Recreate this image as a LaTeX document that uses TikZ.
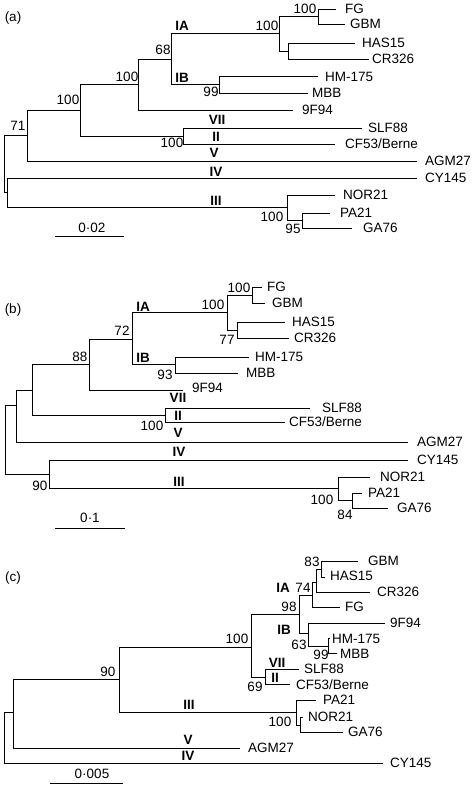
\documentclass[tikz,border=0pt]{standalone}
\usepackage{fontspec}
\setmainfont{Liberation Sans}
\begin{document}
\begin{tikzpicture}[x=1pt,y=-1pt,
  br/.style={line width=0.9pt,black},
  leaf/.style={anchor=west,inner sep=0pt,font=\fontsize{13.5}{13.5}\selectfont,text height=9.7pt,text depth=0pt},
  bs/.style={inner sep=0pt,font=\fontsize{13.5}{13.5}\selectfont,text height=9.7pt,text depth=0pt},
  clade/.style={inner sep=0pt,font=\fontsize{13.5}{13.5}\selectfont\bfseries,text height=9.7pt,text depth=0pt},
  panel/.style={inner sep=0pt,font=\fontsize{13.5}{13.5}\selectfont}]
\useasboundingbox (0,0) rectangle (474,786);
\fill[white] (0,0) rectangle (474,786);

% ================= Panel (a) =================
\node[panel] (pa) at (13,18) {(a)};
\coordinate (a0) at (4,163);
\coordinate (a71) at (27,135);
\coordinate (aIV) at (7,192);
\coordinate (a100a) at (80,110);
\coordinate (a100b) at (138,84);
\coordinate (a68) at (171,59);
\coordinate (a100c) at (279,33);
\coordinate (a100d) at (318,16);
\coordinate (aHC) at (288,51);
\coordinate (a99) at (219,84);
\coordinate (aII) at (183,136);
\coordinate (a100e) at (287,207);
\coordinate (a95) at (302,220);
\coordinate (aFGe) at (336,9);
\coordinate (aGBMe) at (345,24);
\coordinate (aHASe) at (355,43);
\coordinate (aCRe) at (369,59);
\coordinate (aHMe) at (318,76);
\coordinate (aMBBe) at (308,93);
\coordinate (a9Fe) at (293,110);
\coordinate (aSLFe) at (362,128);
\coordinate (aCFe) at (335,144);
\coordinate (aAGMe) at (417,161);
\coordinate (aCYe) at (417,178);
\coordinate (aNORe) at (335,195);
\coordinate (aPAe) at (330,213);
\coordinate (aGAe) at (352,228);
\foreach \p/\c in {a0/a71,a0/aIV,a71/a100a,a71/aAGMe,a100a/a100b,a100a/aII,
  a100b/a68,a100b/a9Fe,a68/a100c,a68/a99,a100c/a100d,a100c/aHC,a100d/aFGe,
  a100d/aGBMe,aHC/aHASe,aHC/aCRe,a99/aHMe,a99/aMBBe,aII/aSLFe,aII/aCFe,
  aIV/aCYe,aIV/a100e,a100e/aNORe,a100e/a95,a95/aPAe,a95/aGAe}
  \draw[br] (\p) |- (\c);
\node[leaf] (aFG) at (345,9) {FG};
\node[leaf] (aGBM) at (350,24) {GBM};
\node[leaf] (aHAS) at (362,43) {HAS15};
\node[leaf] (aCR) at (372,59) {CR326};
\node[leaf] (aHM) at (325,77) {HM-175};
\node[leaf] (aMBB) at (312,93) {MBB};
\node[leaf] (a9F) at (302,110) {9F94};
\node[leaf] (aSLF) at (368,128) {SLF88};
\node[leaf] (aCF) at (345,144) {CF53/Berne};
\node[leaf] (aAGM) at (425,161) {AGM27};
\node[leaf] (aCY) at (425,178) {CY145};
\node[leaf] (aNOR) at (343,195) {NOR21};
\node[leaf] (aPA) at (340,213) {PA21};
\node[leaf] (aGA) at (363,228) {GA76};
\node[bs] (ab1) at (305,9) {100};
\node[bs] (ab2) at (267,26) {100};
\node[bs] (ab3) at (163,50) {68};
\node[bs] (ab4) at (127,77) {100};
\node[bs] (ab5) at (68,100) {100};
\node[bs] (ab6) at (18,126) {71};
\node[bs] (ab7) at (211,92) {99};
\node[bs] (ab8) at (172,143) {100};
\node[bs] (ab9) at (272,217) {100};
\node[bs] (ab10) at (293,229) {95};
\node[clade] (aIA) at (182,26) {IA};
\node[clade] (aIB) at (182,78) {IB};
\node[clade] (aVII) at (217,120) {VII};
\node[clade] (aIIl) at (216,137) {II};
\node[clade] (aV) at (214,153) {V};
\node[clade] (aIVl) at (216,172) {IV};
\node[clade] (aIII) at (216,201) {III};
\node[bs] (asc) at (92,228) {0·02};
\coordinate (as1) at (55,236);
\coordinate (as2) at (124,236);
\draw[br] (as1) -- (as2);

% ================= Panel (b) =================
\node[panel] (pb) at (13,310) {(b)};
\coordinate (b0) at (5,440);
\coordinate (bX) at (16,405);
\coordinate (bY) at (32,390);
\coordinate (b88) at (89,364);
\coordinate (b72) at (132,339);
\coordinate (b100) at (227,312);
\coordinate (bFG) at (252,295);
\coordinate (b77) at (237,330);
\coordinate (b93) at (175,364);
\coordinate (bII) at (165,415);
\coordinate (b90) at (49,474);
\coordinate (b100e) at (338,488);
\coordinate (b84) at (352,500);
\coordinate (bFGe) at (262,287);
\coordinate (bGBMe) at (265,303);
\coordinate (bHASe) at (285,322);
\coordinate (bCRe) at (289,338);
\coordinate (bHMe) at (249,357);
\coordinate (bMBBe) at (238,373);
\coordinate (b9Fe) at (183,390);
\coordinate (bSLFe) at (310,408);
\coordinate (bCFe) at (285,422);
\coordinate (bAGMe) at (408,442);
\coordinate (bCYe) at (408,460);
\coordinate (bNORe) at (370,477);
\coordinate (bPAe) at (362,493);
\coordinate (bGAe) at (388,508);
\foreach \p/\c in {b0/bX,b0/b90,bX/bY,bX/bAGMe,bY/b88,bY/bII,b88/b72,b88/b9Fe,
  b72/b100,b72/b93,b100/bFG,b100/b77,bFG/bFGe,bFG/bGBMe,b77/bHASe,b77/bCRe,
  b93/bHMe,b93/bMBBe,bII/bSLFe,bII/bCFe,b90/bCYe,b90/b100e,b100e/bNORe,
  b100e/b84,b84/bPAe,b84/bGAe}
  \draw[br] (\p) |- (\c);
\node[leaf] (bFGt) at (267,287) {FG};
\node[leaf] (bGBM) at (272,303) {GBM};
\node[leaf] (bHAS) at (292,322) {HAS15};
\node[leaf] (bCR) at (294,338) {CR326};
\node[leaf] (bHM) at (255,357) {HM-175};
\node[leaf] (bMBB) at (246,373) {MBB};
\node[leaf] (b9F) at (192,388) {9F94};
\node[leaf] (bSLF) at (322,408) {SLF88};
\node[leaf] (bCF) at (289,422) {CF53/Berne};
\node[leaf] (bAGM) at (417,442) {AGM27};
\node[leaf] (bCY) at (417,460) {CY145};
\node[leaf] (bNOR) at (380,477) {NOR21};
\node[leaf] (bPA) at (368,493) {PA21};
\node[leaf] (bGA) at (397,508) {GA76};
\node[bs] (bb1) at (239,288) {100};
\node[bs] (bb2) at (213,305) {100};
\node[bs] (bb3) at (227,340) {77};
\node[bs] (bb4) at (122,331) {72};
\node[bs] (bb5) at (80,357) {88};
\node[bs] (bb6) at (165,375) {93};
\node[bs] (bb7) at (152,426) {100};
\node[bs] (bb8) at (40,486) {90};
\node[bs] (bb9) at (322,500) {100};
\node[bs] (bb10) at (345,515) {84};
\node[clade] (bIA) at (143,307) {IA};
\node[clade] (bIB) at (143,358) {IB};
\node[clade] (bVII) at (178,398) {VII};
\node[clade] (bIIl) at (178,416) {II};
\node[clade] (bV) at (178,433) {V};
\node[clade] (bIVl) at (179,452) {IV};
\node[clade] (bIII) at (179,482) {III};
\node[bs] (bsc) at (90,518) {0·1};
\coordinate (bs1) at (55,528);
\coordinate (bs2) at (125,528);
\draw[br] (bs1) -- (bs2);

% ================= Panel (c) =================
\node[panel] (pc) at (13,578) {(c)};
\coordinate (c0) at (4,737);
\coordinate (cX) at (13,712);
\coordinate (c90) at (119,679);
\coordinate (c100) at (251,647);
\coordinate (c98) at (299,614);
\coordinate (c74) at (312,595);
\coordinate (cN) at (316,582);
\coordinate (c83) at (321,569);
\coordinate (c63) at (308,633);
\coordinate (c99) at (328,646);
\coordinate (c69) at (265,677);
\coordinate (c100e) at (296,712);
\coordinate (cNG) at (300,725);
\coordinate (cGBMe) at (358,561);
\coordinate (cHASe) at (325,577);
\coordinate (cCRe) at (370,592);
\coordinate (cFGe) at (340,607);
\coordinate (c9Fe) at (385,623);
\coordinate (cHMe) at (330,638);
\coordinate (cMBBe) at (337,653);
\coordinate (cSLFe) at (299,669);
\coordinate (cCFe) at (290,684);
\coordinate (cPAe) at (316,700);
\coordinate (cNORe) at (303,717);
\coordinate (cGAe) at (343,732);
\coordinate (cAGMe) at (240,748);
\coordinate (cCYe) at (383,763);
\foreach \p/\c in {c0/cX,c0/cCYe,cX/c90,cX/cAGMe,c90/c100,c90/c100e,c100/c98,
  c100/c69,c98/c74,c98/c63,c74/cN,c74/cFGe,cN/c83,cN/cCRe,c83/cGBMe,c83/cHASe,
  c63/c9Fe,c63/c99,c99/cHMe,c99/cMBBe,c69/cSLFe,c69/cCFe,c100e/cPAe,c100e/cNG,
  cNG/cNORe,cNG/cGAe}
  \draw[br] (\p) |- (\c);
\node[leaf] (cGBM) at (368,561) {GBM};
\node[leaf] (cHAS) at (330,576) {HAS15};
\node[leaf] (cCR) at (377,592) {CR326};
\node[leaf] (cFG) at (345,607) {FG};
\node[leaf] (c9F) at (390,623) {9F94};
\node[leaf] (cHM) at (332,639) {HM-175};
\node[leaf] (cMBB) at (340,654) {MBB};
\node[leaf] (cSLF) at (304,669) {SLF88};
\node[leaf] (cCF) at (296,685) {CF53/Berne};
\node[leaf] (cPA) at (323,700) {PA21};
\node[leaf] (cNOR) at (308,717) {NOR21};
\node[leaf] (cGA) at (348,732) {GA76};
\node[leaf] (cAGM) at (248,748) {AGM27};
\node[leaf] (cCY) at (390,763) {CY145};
\node[bs] (cb1) at (312,562) {83};
\node[bs] (cb2) at (303,588) {74};
\node[bs] (cb3) at (289,607) {98};
\node[bs] (cb4) at (299,645) {63};
\node[bs] (cb5) at (321,655) {99};
\node[bs] (cb6) at (237,639) {100};
\node[bs] (cb7) at (255,687) {69};
\node[bs] (cb8) at (108,672) {90};
\node[bs] (cb9) at (280,722) {100};
\node[clade] (cIA) at (283,588) {IA};
\node[clade] (cIB) at (284,630) {IB};
\node[clade] (cVII) at (277,663) {VII};
\node[clade] (cIIl) at (275,678) {II};
\node[clade] (cIII) at (189,705) {III};
\node[clade] (cV) at (188,740) {V};
\node[clade] (cIVl) at (188,756) {IV};
\node[bs] (csc) at (92,774) {0·005};
\coordinate (cs1) at (50,783);
\coordinate (cs2) at (123,783);
\draw[br] (cs1) -- (cs2);
\end{tikzpicture}
\end{document}
